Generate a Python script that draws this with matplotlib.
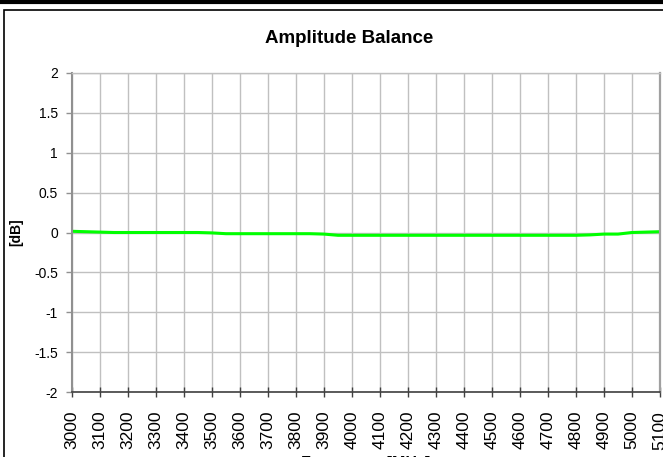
import numpy as np
import matplotlib.pyplot as plt
from matplotlib.lines import Line2D
from matplotlib.patches import Rectangle

plt.rcParams['font.family'] = ['Liberation Sans', 'DejaVu Sans']

# frequency [MHz] and amplitude balance [dB]
freq = [3000, 3050, 3100, 3150, 3200, 3250, 3300, 3350, 3400, 3450,
        3500, 3550, 3600, 3650, 3700, 3750, 3800, 3850, 3900, 3950,
        4000, 4050, 4100, 4150, 4200, 4250, 4300, 4350, 4400, 4450,
        4500, 4550, 4600, 4650, 4700, 4750, 4800, 4850, 4900, 4950,
        5000, 5050, 5100]
balance = [0.015, 0.01, 0.005, 0.0, 0.0, 0.0, 0.0, 0.0, 0.0, 0.0,
           -0.005, -0.015, -0.015, -0.015, -0.015, -0.015, -0.015, -0.015, -0.02, -0.035,
           -0.035, -0.035, -0.035, -0.035, -0.035, -0.035, -0.035, -0.035, -0.035, -0.035,
           -0.035, -0.035, -0.035, -0.035, -0.035, -0.035, -0.035, -0.03, -0.02, -0.02,
           0.0, 0.005, 0.01]
xticks = list(range(3000, 5101, 100))
yticks = [-2, -1.5, -1, -0.5, 0, 0.5, 1, 1.5, 2]

fig = plt.figure(figsize=(6.63, 4.57), dpi=100)
ax = fig.add_axes([72 / 663, 1 - 392 / 457, 588 / 663, 319 / 457])

ax.plot(freq, balance, color='#00ff00', lw=2.2, solid_capstyle='butt')

ax.set_xlim(3000, 5100)
ax.set_ylim(-2, 2)
ax.set_xticks(xticks)
ax.set_xticklabels([str(t) for t in xticks], rotation=90)
ax.set_yticks(yticks)
ax.set_yticklabels(['%g' % t for t in yticks])
ax.grid(True, color='#c0c0c0', lw=1)
ax.set_axisbelow(True)
ax.tick_params(axis='x', direction='inout', length=7, width=1, color='#404040',
               labelsize=12.5, pad=10)
ax.tick_params(axis='y', direction='out', length=4, width=1, color='#909090',
               labelsize=10, pad=6)

ax.spines['top'].set_color('#c0c0c0')
ax.spines['top'].set_linewidth(1)
ax.spines['right'].set_color('#a0a0a0')
ax.spines['right'].set_linewidth(1.6)
ax.spines['left'].set_color('#909090')
ax.spines['left'].set_linewidth(1.5)
ax.spines['bottom'].set_color('#404040')
ax.spines['bottom'].set_linewidth(1.2)

fig.text(349 / 663, 1 - 43 / 457, 'Amplitude Balance', fontsize=13.5,
         fontweight='bold', ha='center', va='baseline')
ax.set_ylabel('[dB]', fontsize=10, fontweight='bold', labelpad=8)
ax.set_xlabel('Frequency [MHz]', fontsize=11.5, fontweight='bold', labelpad=5)

# outer frame of the chart
fig.add_artist(Line2D([0, 1], [1 - 1.5 / 457, 1 - 1.5 / 457], color='black', lw=3,
                      transform=fig.transFigure))
fig.add_artist(Rectangle((3.5 / 663, -0.1), 1.2, 1 - 9.5 / 457 + 0.1, fill=False,
                         edgecolor='black', lw=1.2, transform=fig.transFigure))

fig.savefig('out.png', dpi=100)
